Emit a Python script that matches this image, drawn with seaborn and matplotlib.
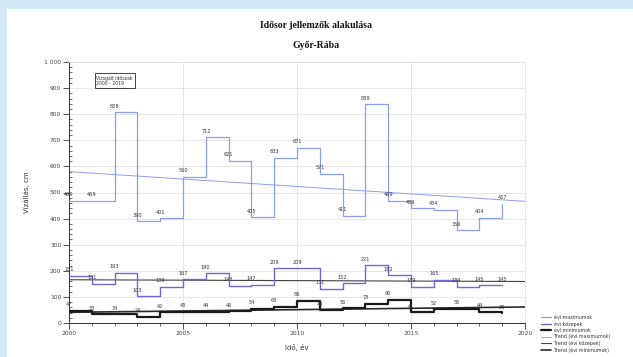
import numpy as np
import pandas as pd
import matplotlib
matplotlib.use("Agg")
import matplotlib.pyplot as plt
import seaborn as sns
from matplotlib.patches import Rectangle
from matplotlib.ticker import MultipleLocator, FuncFormatter

years = list(range(2000, 2020))
maximums = [469, 469, 808, 390, 401, 560, 712, 621, 405, 633,
            671, 571, 411, 839, 469, 439, 434, 356, 404, 457]
averages = [181, 151, 193, 103, 139, 167, 190, 143, 147, 209,
            209, 131, 152, 221, 182, 139, 165, 139, 145, 145]
minimums = [47, 33, 34, 24, 42, 43, 44, 46, 54, 63,
            86, 48, 56, 73, 90, 41, 52, 55, 44, 38]

series_names = ["évi maximumok", "évi közepek", "évi minimumok"]
trend_names = ["Trend (évi maximumok)", "Trend (évi közepek)", "Trend (évi minimumok)"]

sns.set_style("white")
plt.rcParams['font.family'] = ['DejaVu Sans']

fig = plt.figure(figsize=(6.33, 3.57), dpi=100)
fig.patch.set_facecolor("white")
fig.patches.append(Rectangle((0, 0), 7 / 633, 1, transform=fig.transFigure,
                             facecolor="#d3e9f8", edgecolor="none", zorder=-10))
fig.patches.append(Rectangle((0, 1 - 9 / 357), 1, 9 / 357, transform=fig.transFigure,
                             facecolor="#d3e9f8", edgecolor="none", zorder=-10))

ax = fig.add_axes([69 / 633, (357 - 323) / 357, 456 / 633, 261 / 357])
ax.set_facecolor("white")

colors = ["#8a9ef0", "#6c6ad8", "#1a1a1a"]
widths = [0.9, 1.0, 1.6]
trend_colors = ["#8a9ef0", "#444444", "#2a2a2a"]
trend_widths = [0.7, 0.8, 1.2]

df = pd.DataFrame({"year": years, "max": maximums, "avg": averages, "min": minimums})
for col, name, c, w in zip(["max", "avg", "min"], series_names, colors, widths):
    sns.lineplot(data=df, x="year", y=col, ax=ax, color=c, linewidth=w,
                 drawstyle="steps-post", label=name, zorder=3)

xs = np.array([2000, 2020])
for col, name, c, w in zip(["max", "avg", "min"], trend_names, trend_colors, trend_widths):
    k, b = np.polyfit(df["year"], df[col], 1)
    sns.lineplot(x=xs, y=k * xs + b, ax=ax, color=c, linewidth=w, label=name, zorder=2)

for col in ["max", "avg", "min"]:
    for x, v in zip(df["year"], df[col]):
        ax.annotate(str(v), (x, v), xytext=(0, 2.5), textcoords="offset points",
                    ha="center", va="bottom", fontsize=3.6, color="#333333", zorder=4)

ax.set_xlim(2000, 2020)
ax.set_ylim(0, 1000)
ax.xaxis.set_major_locator(MultipleLocator(5))
ax.xaxis.set_minor_locator(MultipleLocator(1))
ax.yaxis.set_major_locator(MultipleLocator(100))
ax.yaxis.set_minor_locator(MultipleLocator(20))
ax.yaxis.set_major_formatter(FuncFormatter(lambda v, p: "1 000" if v == 1000 else f"{int(v)}"))
ax.tick_params(axis="both", which="both", bottom=True, left=True)
ax.tick_params(axis="both", which="major", labelsize=4.3, labelcolor="#444444",
               length=4, width=0.6, color="#333333", direction="out", pad=1.5)
ax.tick_params(axis="both", which="minor", length=2.5, width=0.5, color="#333333")
ax.tick_params(axis="x", which="minor", direction="out")
ax.tick_params(axis="y", which="minor", direction="in")
ax.grid(True, which="major", color="#e2e2e2", linewidth=0.6)
for s in ["top", "right"]:
    ax.spines[s].set_color("#e2e2e2")
    ax.spines[s].set_linewidth(0.6)
for s in ["left", "bottom"]:
    ax.spines[s].set_color("#333333")
    ax.spines[s].set_linewidth(0.7)

ax.set_xlabel("Idő, év", fontsize=5, color="#333333", labelpad=6)
ax.set_ylabel("Vízállás, cm", fontsize=5, color="#333333", labelpad=10)

ax.text(0.06, 0.95, "Vizsgált időszak\n2000 - 2019", transform=ax.transAxes,
        fontsize=3.3, color="#333333", va="top", ha="left", linespacing=1.1,
        bbox=dict(boxstyle="square,pad=0.4", facecolor="white", edgecolor="#222222", linewidth=0.6))

handles, labels = ax.get_legend_handles_labels()
ax.get_legend().remove()
fig.legend(handles, labels, loc="lower left", bbox_to_anchor=(0.848, 0.0),
           fontsize=3.4, frameon=False, handlelength=2.2, labelspacing=0.25,
           handletextpad=0.5, labelcolor="#333333")

fig.text(0.5, 1 - 25 / 357, "Idősor jellemzők alakulása", ha="center", va="center",
         fontsize=7, fontweight="bold", family="Liberation Serif", color="#111111")
fig.text(0.5, 1 - 46 / 357, "Győr-Rába", ha="center", va="center",
         fontsize=7, fontweight="bold", family="Liberation Serif", color="#111111")

fig.savefig("out.png", dpi=100, facecolor=fig.get_facecolor())
